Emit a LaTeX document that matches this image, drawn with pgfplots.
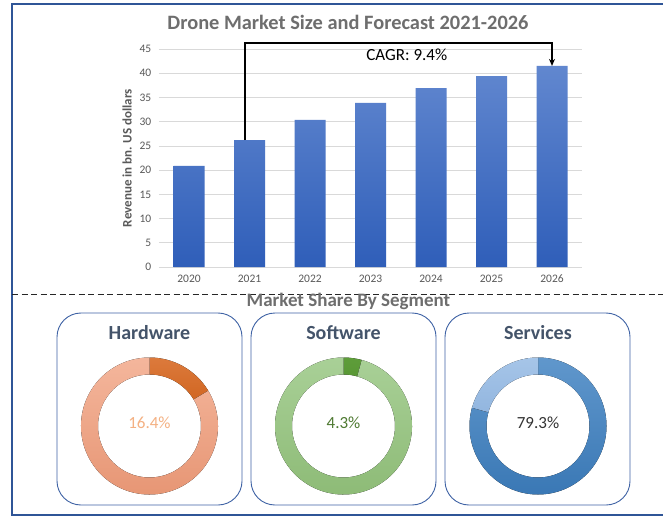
\documentclass[border=0pt]{standalone}
\usepackage{pgfplots}
\pgfplotsset{compat=1.18}
\usepackage{pgfplotstable}
\usetikzlibrary{arrows.meta}
\usepackage{fontspec}
\setmainfont{Carlito}

\definecolor{frameblue}{HTML}{2F5597}
\definecolor{boxblue}{HTML}{3F63A5}
\definecolor{titlegray}{HTML}{6E6E6E}
\definecolor{tickgray}{HTML}{595959}
\definecolor{gridgray}{HTML}{D9D9D9}
\definecolor{segtitle}{HTML}{44546A}
\definecolor{barTop}{HTML}{6187CF}
\definecolor{barBot}{HTML}{2F5EB9}
\definecolor{hwRingTop}{HTML}{F4B69C}
\definecolor{hwRingBot}{HTML}{E69472}
\definecolor{hwSliceTop}{HTML}{DC7A3C}
\definecolor{hwSliceBot}{HTML}{CA5A12}
\definecolor{hwText}{HTML}{F4B183}
\definecolor{swRingTop}{HTML}{A9D097}
\definecolor{swRingBot}{HTML}{8CBA75}
\definecolor{swSliceTop}{HTML}{5E9D3A}
\definecolor{swSliceBot}{HTML}{4C8A28}
\definecolor{swText}{HTML}{4F7A32}
\definecolor{svMainTop}{HTML}{6097CC}
\definecolor{svMainBot}{HTML}{3A78B5}
\definecolor{svLightTop}{HTML}{A6C5E8}
\definecolor{svLightBot}{HTML}{8DB2DD}
\definecolor{svText}{HTML}{333333}

\pgfplotstableread{
idx year value
0 2020 20.9
1 2021 26.2
2 2022 30.4
3 2023 33.9
4 2024 36.9
5 2025 39.4
6 2026 41.5
}\revenue

\pgfplotstableread{
segment share
Hardware 16.4
Software 4.3
Services 79.3
}\segments

\pgfplotstablegetelem{0}{share}\of\segments \let\hwShare\pgfplotsretval
\pgfplotstablegetelem{1}{share}\of\segments \let\swShare\pgfplotsretval
\pgfplotstablegetelem{2}{share}\of\segments \let\svShare\pgfplotsretval
\pgfmathsetmacro\hwA{90-3.6*\hwShare}
\pgfmathsetmacro\swA{90-3.6*\swShare}
\pgfmathsetmacro\svA{90-3.6*\svShare}

% ring segment: cx, cy, start angle, end angle, style
\newcommand{\ringseg}[5]{%
  \fill[#5] (axis cs:#1,#2) ++(#3:68.5pt) arc[start angle=#3, end angle=#4, radius=68.5pt]
    -- ++({#4+180}:17pt) arc[start angle=#4, end angle=#3, radius=51.5pt] -- cycle;}

\begin{document}
\begin{tikzpicture}[x=1pt,y=1pt]
\path[use as bounding box] (0,0) rectangle (663,517);
\fill[white] (0,0) rectangle (663,517);

% outer frame
\draw[frameblue, line width=2pt] (663,513) -- (12,513) -- (12,2) -- (663,2);
% separator
\draw[black!85, line width=0.9pt, dash pattern=on 6pt off 3.5pt] (12,222.7) -- (663,222.7);

% titles
\node[font=\fontsize{20.4}{22}\selectfont\bfseries, text=titlegray] at (348,495) {Drone Market Size and Forecast 2021-2026};
\node[font=\fontsize{19}{21}\selectfont\bfseries, text=titlegray] at (348.5,216) {Market Share By Segment};

% bar chart
\begin{axis}[
  at={(158.75pt,249.8pt)}, anchor=south west, scale only axis,
  width=423.5pt, height=218.25pt,
  xmin=-0.5, xmax=6.5, ymin=0, ymax=45,
  ybar, bar width=31pt,
  axis line style={draw=none},
  major tick length=0pt,
  ymajorgrids, grid style={gridgray, line width=0.9pt},
  xtick={0,1,2,3,4,5,6},
  xticklabels={2020,2021,2022,2023,2024,2025,2026},
  ytick={0,5,10,15,20,25,30,35,40,45},
  /pgf/number format/assume math mode=true,
  tick label style={font=\fontsize{11.5}{13}\selectfont, text=tickgray},
  xticklabel style={yshift=-4pt},
  yticklabel style={xshift=-4pt},
  ylabel={Revenue in bn. US dollars},
  every axis y label/.style={at={(axis description cs:-0.075,0.5)}, rotate=90, anchor=center,
     font=\fontsize{13}{15}\selectfont\bfseries, text=tickgray},
  clip=false,
]
\addplot[draw=none, top color=barTop, bottom color=barBot] table[x=idx, y=value] {\revenue};
\draw[black, line width=1.6pt, -{Stealth[length=7pt,width=6pt]}]
  (axis cs:0.93,26.2) |- (axis cs:6,46.2) -- (axis cs:6,41.5);
\node[font=\fontsize{17}{19}\selectfont, text=black] at (axis cs:3.6,43.75) {CAGR: 9.4\%};
\end{axis}

% segment boxes
\foreach \bx in {57,251,445} {
  \draw[boxblue, line width=0.9pt, rounded corners=24pt] (\bx,12) rectangle (\bx+185,204);
}
\node[font=\fontsize{20}{22}\selectfont\bfseries, text=segtitle] at (149.5,184) {Hardware};
\node[font=\fontsize{20}{22}\selectfont\bfseries, text=segtitle] at (343.5,184) {Software};
\node[font=\fontsize{20}{22}\selectfont\bfseries, text=segtitle] at (538,184) {Services};

% donuts
\begin{axis}[
  at={(0pt,0pt)}, anchor=south west, scale only axis,
  width=663pt, height=517pt,
  xmin=0, xmax=663, ymin=0, ymax=517,
  hide axis, clip=false,
]
\ringseg{149.5}{91}{90}{\hwA}{top color=hwSliceTop, bottom color=hwSliceBot}
\ringseg{149.5}{91}{\hwA}{-270}{top color=hwRingTop, bottom color=hwRingBot}
\ringseg{343.5}{91}{90}{\swA}{top color=swSliceTop, bottom color=swSliceBot}
\ringseg{343.5}{91}{\swA}{-270}{top color=swRingTop, bottom color=swRingBot}
\ringseg{538}{91}{90}{\svA}{top color=svMainTop, bottom color=svMainBot}
\ringseg{538}{91}{\svA}{-270}{top color=svLightTop, bottom color=svLightBot}
\node[font=\fontsize{17}{19}\selectfont, text=hwText] at (axis cs:149.5,94) {\hwShare\%};
\node[font=\fontsize{17}{19}\selectfont, text=swText] at (axis cs:343.5,94) {\swShare\%};
\node[font=\fontsize{17}{19}\selectfont, text=svText] at (axis cs:538,94) {\svShare\%};
\end{axis}
\end{tikzpicture}
\end{document}
